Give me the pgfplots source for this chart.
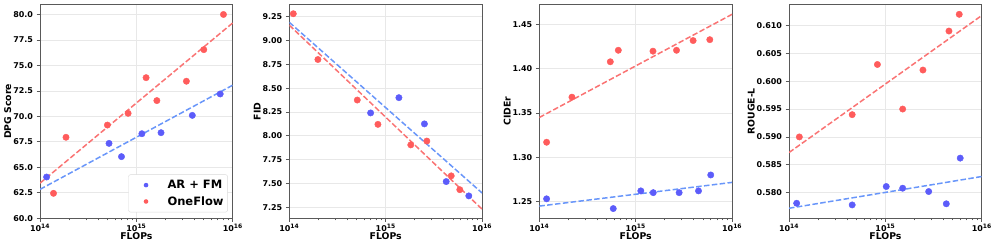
\documentclass[border=0pt]{standalone}
\usepackage{pgfplots}
\pgfplotsset{compat=1.18}
\usepackage{fontspec}
\setmainfont{DejaVu Sans}
\definecolor{dotblue}{RGB}{92,92,250}
\definecolor{dotred}{RGB}{255,92,92}
\definecolor{lineblue}{RGB}{105,150,250}
\definecolor{linered}{RGB}{250,115,115}
\pgfplotsset{
  every axis/.append style={
    scale only axis, width=192.8pt, height=214pt,
    xtick={1e14,1e15,1e16},
    xticklabels={\textbf{10\textsuperscript{14}},\textbf{10\textsuperscript{15}},\textbf{10\textsuperscript{16}}},
    minor xtick={2e14,3e14,4e14,5e14,6e14,7e14,8e14,9e14,2e15,3e15,4e15,5e15,6e15,7e15,8e15,9e15},
    grid=major, major grid style={draw=black!9, line width=0.8pt},
    axis line style={draw=black!65, line width=1pt},
    tick style={draw=black!65, line width=0.8pt},
    major tick length=3.5pt, minor tick length=2pt,
    tick align=outside, xtick pos=left, ytick pos=left,
    tick label style={font=\fontsize{8}{9.5}\selectfont\bfseries},
    /pgf/number format/assume math mode=true,
    label style={font=\fontsize{9.3}{11}\selectfont\bfseries},
    xlabel={FLOPs}, xlabel shift=-6pt, ylabel shift=-5pt,
    xticklabel style={yshift=1pt},
  },
}
\begin{document}
\begin{tikzpicture}
% Panel 1: DPG Score
\begin{axis}[xmode=log, xmin=1e14, xmax=1e16, anchor=south west, at={(40pt,27.7pt)},
  ymin=60, ymax=81, ytick={60,62.5,65,67.5,70,72.5,75,77.5,80},
  yticklabel style={/pgf/number format/fixed, /pgf/number format/fixed zerofill, /pgf/number format/precision=1},
  ylabel={DPG Score},
  legend style={at={(0.974,0.028)}, anchor=south east, draw=black!15, rounded corners=2pt,
    font=\fontsize{11.5}{13}\selectfont\bfseries, inner xsep=2pt, inner ysep=3.5pt, row sep=2.3pt},
  legend cell align=left,
  legend image code/.code={\path[draw=none, fill=none] (-5pt,0) -- (30pt,0); \fill[draw=none] (10.5pt,0) circle (2.3pt);},
]
\addplot[no marks, draw=lineblue, line width=1.5pt, dash pattern=on 5.5pt off 2.4pt, forget plot] coordinates {(1e14,62.84) (1e16,73.07)};
\addplot[no marks, draw=linered, line width=1.5pt, dash pattern=on 5.5pt off 2.4pt, forget plot] coordinates {(1e14,63.45) (1e16,79.18)};
\addplot[only marks, mark=*, mark size=3.2pt, color=dotblue, mark options={draw=none, fill=dotblue}] coordinates {(1.17e14,64.05) (5.2e14,67.35) (7.0e14,66.05) (1.14e15,68.3) (1.8e15,68.4) (3.8e15,70.1) (7.4e15,72.2)};
\addlegendentry{AR + FM}
\addplot[only marks, mark=*, mark size=3.2pt, color=dotred, mark options={draw=none, fill=dotred}] coordinates {(1.38e14,62.45) (1.86e14,67.95) (5.0e14,69.15) (8.2e14,70.3) (1.26e15,73.8) (1.63e15,71.55) (3.3e15,73.45) (5.0e15,76.55) (8.0e15,80.0)};
\addlegendentry{OneFlow}
\end{axis}
% Panel 2: FID
\begin{axis}[xmode=log, xmin=1e14, xmax=1e16, anchor=south west, at={(289.3pt,27.7pt)},
  ymin=7.135, ymax=9.379, ytick={7.25,7.5,7.75,8,8.25,8.5,8.75,9,9.25},
  yticklabel style={/pgf/number format/fixed, /pgf/number format/fixed zerofill, /pgf/number format/precision=2},
  ylabel={FID},
]
\addplot[no marks, draw=lineblue, line width=1.5pt, dash pattern=on 5.5pt off 2.4pt] coordinates {(1e14,9.19) (1e16,7.40)};
\addplot[no marks, draw=linered, line width=1.5pt, dash pattern=on 5.5pt off 2.4pt] coordinates {(1e14,9.16) (1e16,7.23)};
\addplot[only marks, mark=*, mark size=3.2pt, color=dotblue, mark options={draw=none, fill=dotblue}] coordinates {(6.97e14,8.24) (1.37e15,8.40) (2.52e15,8.125) (4.24e15,7.52) (7.28e15,7.37)};
\addplot[only marks, mark=*, mark size=3.2pt, color=dotred, mark options={draw=none, fill=dotred}] coordinates {(1.1e14,9.28) (1.98e14,8.80) (5.07e14,8.375) (8.3e14,8.12) (1.82e15,7.905) (2.67e15,7.945) (4.78e15,7.58) (5.87e15,7.435)};
\end{axis}
% Panel 3: CIDEr
\begin{axis}[xmode=log, xmin=1e14, xmax=1e16, anchor=south west, at={(539.3pt,27.7pt)},
  ymin=1.231, ymax=1.473, ytick={1.25,1.3,1.35,1.4,1.45},
  yticklabel style={/pgf/number format/fixed, /pgf/number format/fixed zerofill, /pgf/number format/precision=2},
  ylabel={CIDEr},
]
\addplot[no marks, draw=lineblue, line width=1.5pt, dash pattern=on 5.5pt off 2.4pt] coordinates {(1e14,1.2448) (1e16,1.2716)};
\addplot[no marks, draw=linered, line width=1.5pt, dash pattern=on 5.5pt off 2.4pt] coordinates {(1e14,1.345) (1e16,1.4617)};
\addplot[only marks, mark=*, mark size=3.2pt, color=dotblue, mark options={draw=none, fill=dotblue}] coordinates {(1.19e14,1.253) (5.85e14,1.242) (1.13e15,1.262) (1.52e15,1.260) (2.82e15,1.260) (4.48e15,1.262) (6.0e15,1.280)};
\addplot[only marks, mark=*, mark size=3.2pt, color=dotred, mark options={draw=none, fill=dotred}] coordinates {(1.19e14,1.317) (2.18e14,1.368) (5.45e14,1.408) (6.6e14,1.421) (1.51e15,1.420) (2.65e15,1.421) (3.94e15,1.432) (5.87e15,1.433)};
\end{axis}
% Panel 4: ROUGE-L
\begin{axis}[xmode=log, xmin=1e14, xmax=1e16, anchor=south west, at={(789pt,27.7pt)},
  ymin=0.5754, ymax=0.6138, ytick={0.58,0.585,0.59,0.595,0.6,0.605,0.61},
  yticklabel style={/pgf/number format/fixed, /pgf/number format/fixed zerofill, /pgf/number format/precision=3},
  ylabel={ROUGE-L},
]
\addplot[no marks, draw=lineblue, line width=1.5pt, dash pattern=on 5.5pt off 2.4pt] coordinates {(1e14,0.5772) (1e16,0.5829)};
\addplot[no marks, draw=linered, line width=1.5pt, dash pattern=on 5.5pt off 2.4pt] coordinates {(1e14,0.5872) (1e16,0.6118)};
\addplot[only marks, mark=*, mark size=3.2pt, color=dotblue, mark options={draw=none, fill=dotblue}] coordinates {(1.2e14,0.5781) (4.52e14,0.5778) (1.02e15,0.5811) (1.51e15,0.5808) (2.81e15,0.5802) (4.28e15,0.5780) (5.97e15,0.5862)};
\addplot[only marks, mark=*, mark size=3.2pt, color=dotred, mark options={draw=none, fill=dotred}] coordinates {(1.28e14,0.590) (4.52e14,0.594) (8.26e14,0.603) (1.51e15,0.595) (2.45e15,0.602) (4.56e15,0.609) (5.83e15,0.612)};
\end{axis}
\pgfresetboundingbox
\useasboundingbox (0,0) rectangle (996pt,246pt);
\end{tikzpicture}
\end{document}
